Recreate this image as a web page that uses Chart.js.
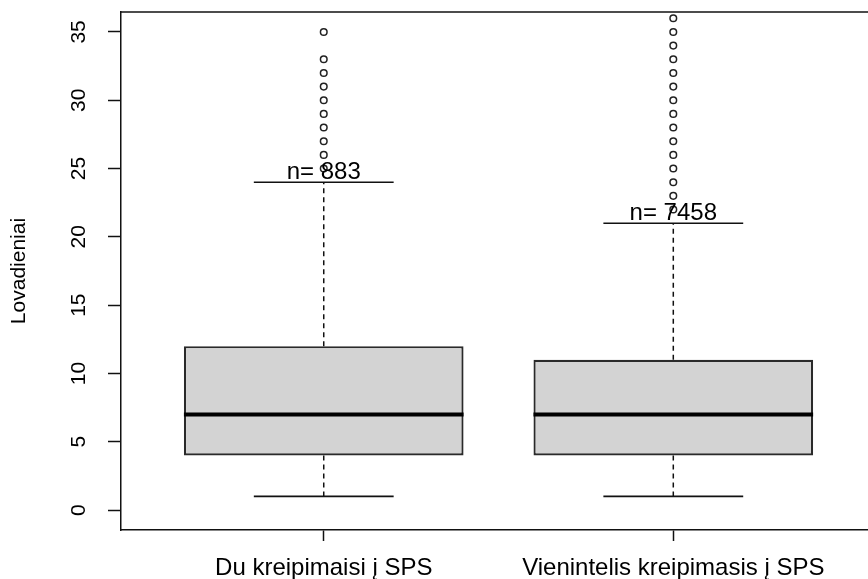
<!DOCTYPE html>
<html>
<head>
<meta charset="utf-8">
<script src="https://cdn.jsdelivr.net/npm/chart.js@4/dist/chart.umd.min.js"></script>
<style>
  html, body { margin: 0; padding: 0; background: #fff; }
  #wrap { width: 868px; height: 579px; }
</style>
</head>
<body>
<div id="wrap"><canvas id="c" width="868" height="579"></canvas></div>
<script>
// Lovadieniai by number of SPS visits: five-number summaries and outliers
const categories = ['Du kreipimaisi į SPS', 'Vienintelis kreipimasis į SPS'];
const counts = [883, 7458];
const whiskerLow = [1, 1];
const q1 = [4, 4];
const medians = [7, 7];
const q3 = [12, 11];
const whiskerHigh = [24, 21];
const outliersDu = [25, 26, 27, 28, 29, 30, 31, 32, 33, 35];
const outliersVienintelis = [22, 23, 24, 25, 26, 27, 28, 29, 30, 31, 32, 33, 34, 35, 36];
const outliers = [outliersDu, outliersVienintelis];
const yTicks = [0, 5, 10, 15, 20, 25, 30, 35];

const FONT = "'Liberation Sans', Arial, sans-serif";
const BOX_HALF = 0.4;   // half box width, in x units
const CAP_HALF = 0.2;   // half whisker-cap width, in x units
const INK = '#111';

// line segments separated by null gaps
function segments(build) {
  const pts = [];
  categories.forEach((_, i) => {
    build(i + 1, i).forEach(seg => {
      pts.push(seg[0], seg[1], { x: seg[0].x, y: null });
    });
  });
  return pts;
}

const medianPts = segments((c, i) => [[{ x: c - BOX_HALF, y: medians[i] }, { x: c + BOX_HALF, y: medians[i] }]]);
const whiskerPts = segments((c, i) => [
  [{ x: c, y: q3[i] }, { x: c, y: whiskerHigh[i] }],
  [{ x: c, y: q1[i] }, { x: c, y: whiskerLow[i] }]
]);
const capPts = segments((c, i) => [
  [{ x: c - CAP_HALF, y: whiskerHigh[i] }, { x: c + CAP_HALF, y: whiskerHigh[i] }],
  [{ x: c - CAP_HALF, y: whiskerLow[i] }, { x: c + CAP_HALF, y: whiskerLow[i] }]
]);
const outlierPts = outliers.flatMap((arr, i) => arr.map(v => ({ x: i + 1, y: v })));

// frame top edge, rotated y tick labels and the n= annotations
const extras = {
  id: 'extras',
  afterDatasetsDraw(chart) {
    const { ctx, scales: { x, y } } = chart;
    ctx.save();
    ctx.fillStyle = '#000';
    ctx.font = '24px ' + FONT;
    ctx.textAlign = 'center';
    ctx.textBaseline = 'alphabetic';
    categories.forEach((_, i) => {
      ctx.fillText('n= ' + counts[i], x.getPixelForValue(i + 1), y.getPixelForValue(whiskerHigh[i]) - 3);
    });
    ctx.restore();
  },
  afterDraw(chart) {
    const { ctx, chartArea, scales: { y } } = chart;
    ctx.save();
    ctx.strokeStyle = INK;
    ctx.lineWidth = 1.5;
    ctx.beginPath();
    ctx.moveTo(chartArea.left - 0.75, chartArea.top);
    ctx.lineTo(chartArea.right, chartArea.top);
    ctx.stroke();
    ctx.fillStyle = '#000';
    ctx.font = '21px ' + FONT;
    ctx.textAlign = 'center';
    ctx.textBaseline = 'middle';
    y.ticks.forEach(t => {
      ctx.save();
      ctx.translate(79, y.getPixelForValue(t.value));
      ctx.rotate(-Math.PI / 2);
      ctx.fillText(String(t.value), 0, 0);
      ctx.restore();
    });
    ctx.restore();
  }
};

new Chart(document.getElementById('c'), {
  type: 'bar',
  data: {
    datasets: [
      {
        type: 'bar',
        data: categories.map((_, i) => ({ x: i + 1, y: [q1[i], q3[i]] })),
        backgroundColor: '#d3d3d3',
        borderColor: '#2a2a2a',
        borderWidth: 2.2,
        borderSkipped: false,
        barPercentage: BOX_HALF * 2,
        categoryPercentage: 1,
        order: 5
      },
      {
        type: 'line',
        data: whiskerPts,
        borderColor: INK,
        borderWidth: 1.5,
        borderDash: [5, 4],
        pointRadius: 0,
        spanGaps: false,
        order: 4
      },
      {
        type: 'line',
        data: capPts,
        borderColor: INK,
        borderWidth: 1.6,
        pointRadius: 0,
        spanGaps: false,
        order: 3
      },
      {
        type: 'line',
        data: medianPts,
        borderColor: '#000',
        borderWidth: 4,
        borderCapStyle: 'butt',
        pointRadius: 0,
        spanGaps: false,
        order: 2
      },
      {
        type: 'scatter',
        data: outlierPts,
        showLine: false,
        pointStyle: 'circle',
        pointRadius: 3.3,
        pointBorderWidth: 1.5,
        pointBorderColor: '#222',
        pointBackgroundColor: '#fff',
        order: 1
      }
    ]
  },
  options: {
    responsive: false,
    devicePixelRatio: 1,
    animation: false,
    events: [],
    layout: { autoPadding: false, padding: { top: 12, right: 0, bottom: 0, left: 0 } },
    plugins: { legend: { display: false }, tooltip: { enabled: false } },
    scales: {
      x: {
        type: 'linear',
        min: 0.42,
        max: 2.557,
        offset: false,
        afterBuildTicks: s => { s.ticks = categories.map((_, i) => ({ value: i + 1 })); },
        afterFit: s => { s.height = 49; s.paddingLeft = 0; s.paddingRight = 0; },
        ticks: {
          callback: v => categories[v - 1],
          autoSkip: false,
          maxRotation: 0,
          minRotation: 0,
          padding: 13,
          color: '#000',
          font: { family: FONT, size: 24 }
        },
        grid: {
          offset: false,
          drawOnChartArea: false,
          drawTicks: true,
          tickLength: 11,
          tickColor: INK,
          tickWidth: 1.5
        },
        border: { display: true, color: INK, width: 1.5 }
      },
      y: {
        type: 'linear',
        min: -1.46,
        max: 36.46,
        afterBuildTicks: s => { s.ticks = yTicks.map(v => ({ value: v })); },
        afterFit: s => { s.width = 121; s.paddingTop = 0; s.paddingBottom = 0; },
        ticks: { display: false },
        grid: {
          drawOnChartArea: false,
          drawTicks: true,
          tickLength: 13,
          tickColor: INK,
          tickWidth: 1.5
        },
        border: { display: true, color: INK, width: 1.5 },
        title: {
          display: true,
          text: 'Lovadieniai',
          color: '#000',
          font: { family: FONT, size: 21 },
          padding: { top: 7, bottom: 0 }
        }
      }
    }
  },
  plugins: [extras]
});
</script>
</body>
</html>
